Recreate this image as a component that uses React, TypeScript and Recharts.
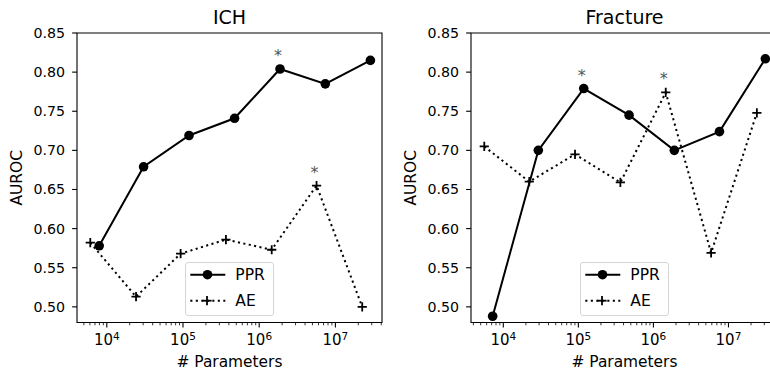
import { LineChart, Line, XAxis, YAxis, Legend, ReferenceArea } from "recharts";

// # parameters (x) and AUROC (y)
const ichPprParams = [7950, 30400, 120000, 475000, 1.875e6, 7.37e6, 2.88e7];
const ichPpr = [0.578, 0.679, 0.719, 0.741, 0.804, 0.785, 0.815];
const ichAeParams = [6070, 24200, 93100, 366000, 1.46e6, 5.66e6, 2.25e7];
const ichAe = [0.582, 0.513, 0.568, 0.586, 0.573, 0.655, 0.5];
const ichPprStars = [4];
const ichAeStars = [5];

const fracPprParams = [7220, 29300, 118000, 474000, 1.9e6, 7.59e6, 3.1e7];
const fracPpr = [0.488, 0.7, 0.779, 0.745, 0.7, 0.724, 0.817];
const fracAeParams = [5580, 22200, 90300, 363000, 1.46e6, 5.87e6, 2.39e7];
const fracAe = [0.705, 0.66, 0.695, 0.659, 0.774, 0.569, 0.748];
const fracPprStars = [2];
const fracAeStars = [4];

const yTicks = [0.5, 0.55, 0.6, 0.65, 0.7, 0.75, 0.8, 0.85];
const majorTicks = [1e4, 1e5, 1e6, 1e7];
const legendOrder = ["PPR", "AE"];

const FONT = "DejaVu Sans, sans-serif";

function toRows(params: number[], vals: number[], stars: number[]) {
  return params.map((p, i) => ({ params: p, auroc: vals[i], star: stars.includes(i) }));
}

function logTicks(lo: number, hi: number) {
  const out: number[] = [];
  for (let e = 3; e <= 8; e++) {
    for (let m = 1; m <= 9; m++) {
      const v = m * Math.pow(10, e);
      if (v >= lo && v <= hi) out.push(v);
    }
  }
  return out;
}

const Star = ({ cx, cy }: { cx: number; cy: number }) => (
  <text x={cx - 2} y={cy - 8} textAnchor="middle" fontSize={16} fill="#555" fontFamily={FONT}>
    *
  </text>
);

const circleDot = (p: any) => (
  <g key={`c${p.index}`}>
    <circle cx={p.cx} cy={p.cy} r={4.8} fill="#000" />
    {p.payload.star && <Star cx={p.cx} cy={p.cy} />}
  </g>
);

const plusDot = (p: any) => (
  <g key={`p${p.index}`}>
    <line x1={p.cx - 4.6} x2={p.cx + 4.6} y1={p.cy} y2={p.cy} stroke="#000" strokeWidth={1.8} />
    <line x1={p.cx} x2={p.cx} y1={p.cy - 4.6} y2={p.cy + 4.6} stroke="#000" strokeWidth={1.8} />
    {p.payload.star && <Star cx={p.cx} cy={p.cy} />}
  </g>
);

const XTick = (props: any) => {
  const { x, y, payload } = props;
  const v = payload.value;
  const exp = Math.round(Math.log10(v));
  const major = majorTicks.includes(v);
  return (
    <g>
      <line x1={x} x2={x} y1={y} y2={y + (major ? 4.9 : 2.8)} stroke="#000" strokeWidth={major ? 1.1 : 0.8} />
      {major && (
        <text x={x} y={y + 22.5} textAnchor="middle" fontSize={15} fontFamily={FONT} fill="#000">
          <tspan>10</tspan>
          <tspan dy={-5.5} fontSize={10.5}>
            {exp}
          </tspan>
        </text>
      )}
    </g>
  );
};

const YTick = (props: any) => {
  const { x, y, payload } = props;
  return (
    <g>
      <line x1={x - 4.9} x2={x} y1={y} y2={y} stroke="#000" strokeWidth={1.1} />
      <text x={x - 12} y={y} dy={5} textAnchor="end" fontSize={14.2} fontFamily={FONT} fill="#000">
        {payload.value.toFixed(2)}
      </text>
    </g>
  );
};

const LegendBox = ({ payload }: any) => {
  const items = [...(payload || [])].sort(
    (a: any, b: any) => legendOrder.indexOf(a.value) - legendOrder.indexOf(b.value)
  );
  return (
    <div
      style={{
        width: 89,
        height: 54,
        boxSizing: "border-box",
        border: "1px solid #d6d6d6",
        borderRadius: 3,
        background: "rgba(255,255,255,0.8)",
      }}
    >
      <svg width={87} height={52} style={{ display: "block" }}>
        {items.map((entry: any, i: number) => {
          const cy = 11.7 + i * 26;
          const dotted = entry.value === "AE";
          return (
            <g key={entry.value}>
              <line
                x1={4.3}
                x2={39.3}
                y1={cy}
                y2={cy}
                stroke="#000"
                strokeWidth={2}
                strokeDasharray={dotted ? "2.1 3.4" : undefined}
              />
              {dotted ? (
                <g>
                  <line x1={16.4} x2={25.6} y1={cy} y2={cy} stroke="#000" strokeWidth={1.8} />
                  <line x1={21} x2={21} y1={cy - 4.6} y2={cy + 4.6} stroke="#000" strokeWidth={1.8} />
                </g>
              ) : (
                <circle cx={21.5} cy={cy} r={4.8} fill="#000" />
              )}
              <text x={49.3} y={cy + 5.5} fontSize={15.5} fontFamily={FONT} fill="#000">
                {entry.value}
              </text>
            </g>
          );
        })}
      </svg>
    </div>
  );
};

interface PanelProps {
  title: string;
  ppr: { params: number; auroc: number; star: boolean }[];
  ae: { params: number; auroc: number; star: boolean }[];
  xDomain: [number, number];
  width: number;
  margin: { top: number; right: number; bottom: number; left: number };
}

function Panel({ title, ppr, ae, xDomain, width, margin }: PanelProps) {
  const yAxisWidth = 40;
  const plotLeft = margin.left + yAxisWidth;
  const plotW = width - plotLeft - margin.right;
  const cx = plotLeft + plotW / 2;
  const plotMid = (margin.top + 322.5) / 2;
  return (
    <LineChart width={width} height={372} margin={margin} style={{ fontFamily: FONT }}>
      <XAxis
        dataKey="params"
        type="number"
        scale="log"
        domain={xDomain}
        allowDataOverflow
        ticks={logTicks(xDomain[0], xDomain[1])}
        interval={0}
        tick={<XTick />}
        tickSize={0}
        tickMargin={0}
        tickLine={false}
        axisLine={false}
        height={40}
      />
      <YAxis
        type="number"
        domain={[0.48, 0.85]}
        allowDataOverflow
        ticks={yTicks}
        interval={0}
        tick={<YTick />}
        tickSize={0}
        tickMargin={0}
        tickLine={false}
        axisLine={false}
        width={yAxisWidth}
      />
      <ReferenceArea
        x1={xDomain[0]}
        x2={xDomain[1]}
        y1={0.48}
        y2={0.85}
        fill="none"
        stroke="#000"
        strokeWidth={1.1}
        ifOverflow="visible"
      />
      <Line
        data={ppr}
        dataKey="auroc"
        name="PPR"
        stroke="#000"
        strokeWidth={2}
        dot={circleDot}
        activeDot={false}
        isAnimationActive={false}
      />
      <Line
        data={ae}
        dataKey="auroc"
        name="AE"
        stroke="#000"
        strokeWidth={2}
        strokeDasharray="2.1 3.4"
        dot={plusDot}
        activeDot={false}
        isAnimationActive={false}
      />
      <Legend
        layout="vertical"
        align="center"
        verticalAlign="middle"
        content={<LegendBox />}
        wrapperStyle={{ left: cx - 44.5, top: 262, width: 89, height: 54 }}
      />
      <text x={cx} y={24} textAnchor="middle" fontSize={19} fontFamily={FONT} fill="#000">
        {title}
      </text>
      <text x={cx} y={367} textAnchor="middle" fontSize={15.4} fontFamily={FONT} fill="#000">
        # Parameters
      </text>
      <text
        x={plotLeft - 60}
        y={plotMid}
        transform={`rotate(-90 ${plotLeft - 60} ${plotMid})`}
        textAnchor="middle"
        dominantBaseline="central"
        fontSize={15.4}
        fontFamily={FONT}
        fill="#000"
      >
        AUROC
      </text>
    </LineChart>
  );
}

export default function App() {
  return (
    <div
      style={{
        position: "absolute",
        left: 0,
        top: 0,
        width: 770,
        height: 372,
        overflow: "hidden",
        background: "#fff",
      }}
    >
      <div style={{ position: "absolute", left: 0, top: 0 }}>
        <Panel
          title="ICH"
          ppr={toRows(ichPprParams, ichPpr, ichPprStars)}
          ae={toRows(ichAeParams, ichAe, ichAeStars)}
          xDomain={[4064, 4.09e7]}
          width={385}
          margin={{ top: 33, right: 3, bottom: 9.5, left: 37 }}
        />
      </div>
      <div style={{ position: "absolute", left: 385, top: 0 }}>
        <Panel
          title="Fracture"
          ppr={toRows(fracPprParams, fracPpr, fracPprStars)}
          ae={toRows(fracAeParams, fracAe, fracAeStars)}
          xDomain={[3715, 4.57e7]}
          width={400}
          margin={{ top: 33, right: 7, bottom: 9.5, left: 46 }}
        />
      </div>
    </div>
  );
}
